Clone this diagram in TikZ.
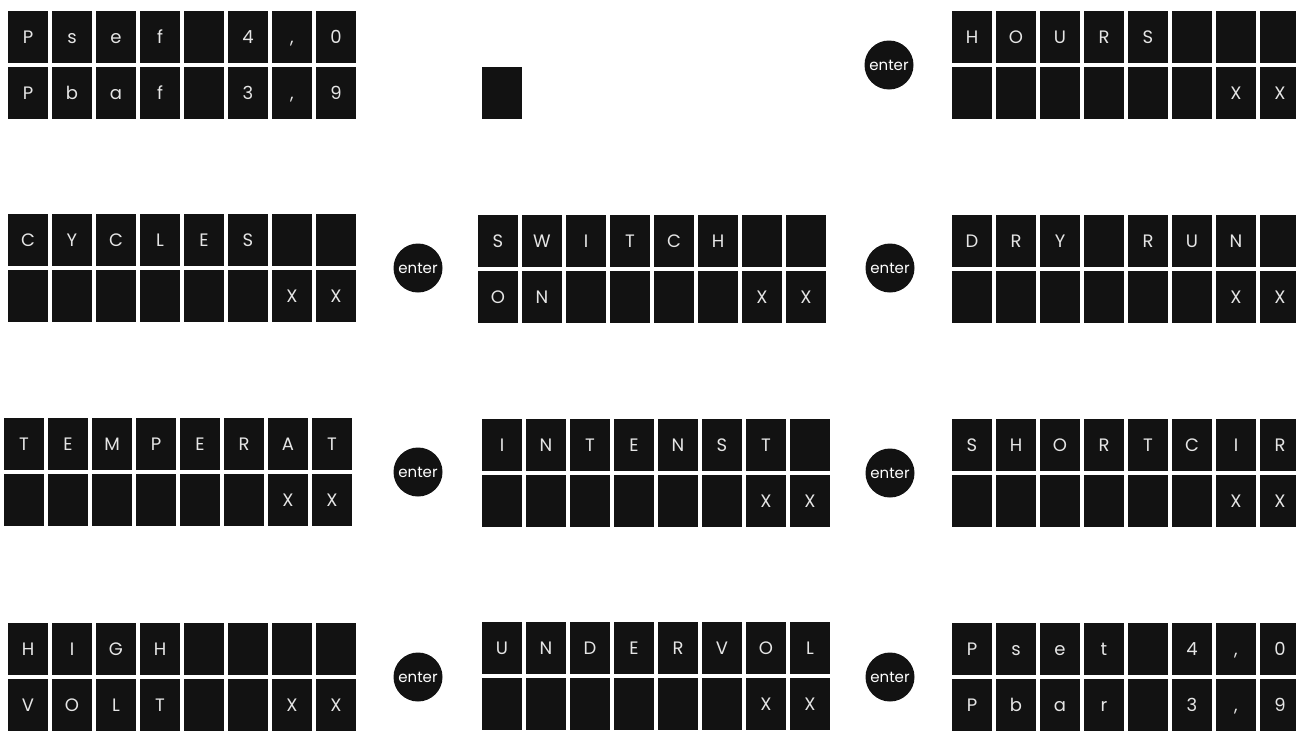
\documentclass[tikz,border=0pt]{standalone}
\usepackage{fontspec}
\setmainfont{Poppins}
\begin{document}
\begin{tikzpicture}[x=1pt,y=-1pt,
  cell/.style={fill=black!93, minimum width=40pt, minimum height=52pt, inner sep=0pt,
    text=white!90!black, text height=13pt, text depth=0pt, font=\fontsize{18}{18}\selectfont},
  enterbtn/.style={circle, fill=black!93, minimum size=49pt, inner sep=0pt,
    text=white, text height=10pt, text depth=0pt, font=\fontsize{15}{15}\selectfont}]
\useasboundingbox (0,0) rectangle (1296,731);
\clip (0,0) rectangle (1296,731);
\newcommand\dispunit[5]{%
  \foreach \c [count=\i] in {#4} {\node[cell] (#1-t\i) at ({#2+20+44*(\i-1)},{#3-28}) {\c};}
  \foreach \c [count=\i] in {#5} {\node[cell] (#1-b\i) at ({#2+20+44*(\i-1)},{#3+28}) {\c};}
}
% row 1
\dispunit{pa}{8}{65}{P,s,e,f,{},4,{,},0}{P,b,a,f,{},3,{,},9}
\node[cell] (sq) at (502,93) {};
\node[enterbtn] (e1) at (889,65) {enter};
\dispunit{hours}{952}{65}{H,O,U,R,S,{},{},{}}{{},{},{},{},{},{},X,X}
% row 2
\dispunit{cyc}{8}{268}{C,Y,C,L,E,S,{},{}}{{},{},{},{},{},{},X,X}
\node[enterbtn] (e2) at (418,268) {enter};
\dispunit{sw}{478}{269}{S,W,I,T,C,H,{},{}}{O,N,{},{},{},{},X,X}
\node[enterbtn] (e3) at (890,268) {enter};
\dispunit{dry}{952}{269}{D,R,Y,{},R,U,N,{}}{{},{},{},{},{},{},X,X}
% row 3
\dispunit{temp}{4}{472}{T,E,M,P,E,R,A,T}{{},{},{},{},{},{},X,X}
\node[enterbtn] (e4) at (418,472) {enter};
\dispunit{int}{482}{473}{I,N,T,E,N,S,T,{}}{{},{},{},{},{},{},X,X}
\node[enterbtn] (e5) at (890,473) {enter};
\dispunit{sc}{952}{473}{S,H,O,R,T,C,I,R}{{},{},{},{},{},{},X,X}
% row 4
\dispunit{hv}{8}{677}{H,I,G,H,{},{},{},{}}{V,O,L,T,{},{},X,X}
\node[enterbtn] (e6) at (418,677) {enter};
\dispunit{uv}{482}{676}{U,N,D,E,R,V,O,L}{{},{},{},{},{},{},X,X}
\node[enterbtn] (e7) at (890,677) {enter};
\dispunit{pb}{952}{677}{P,s,e,t,{},4,{,},0}{P,b,a,r,{},3,{,},9}
\end{tikzpicture}
\end{document}
